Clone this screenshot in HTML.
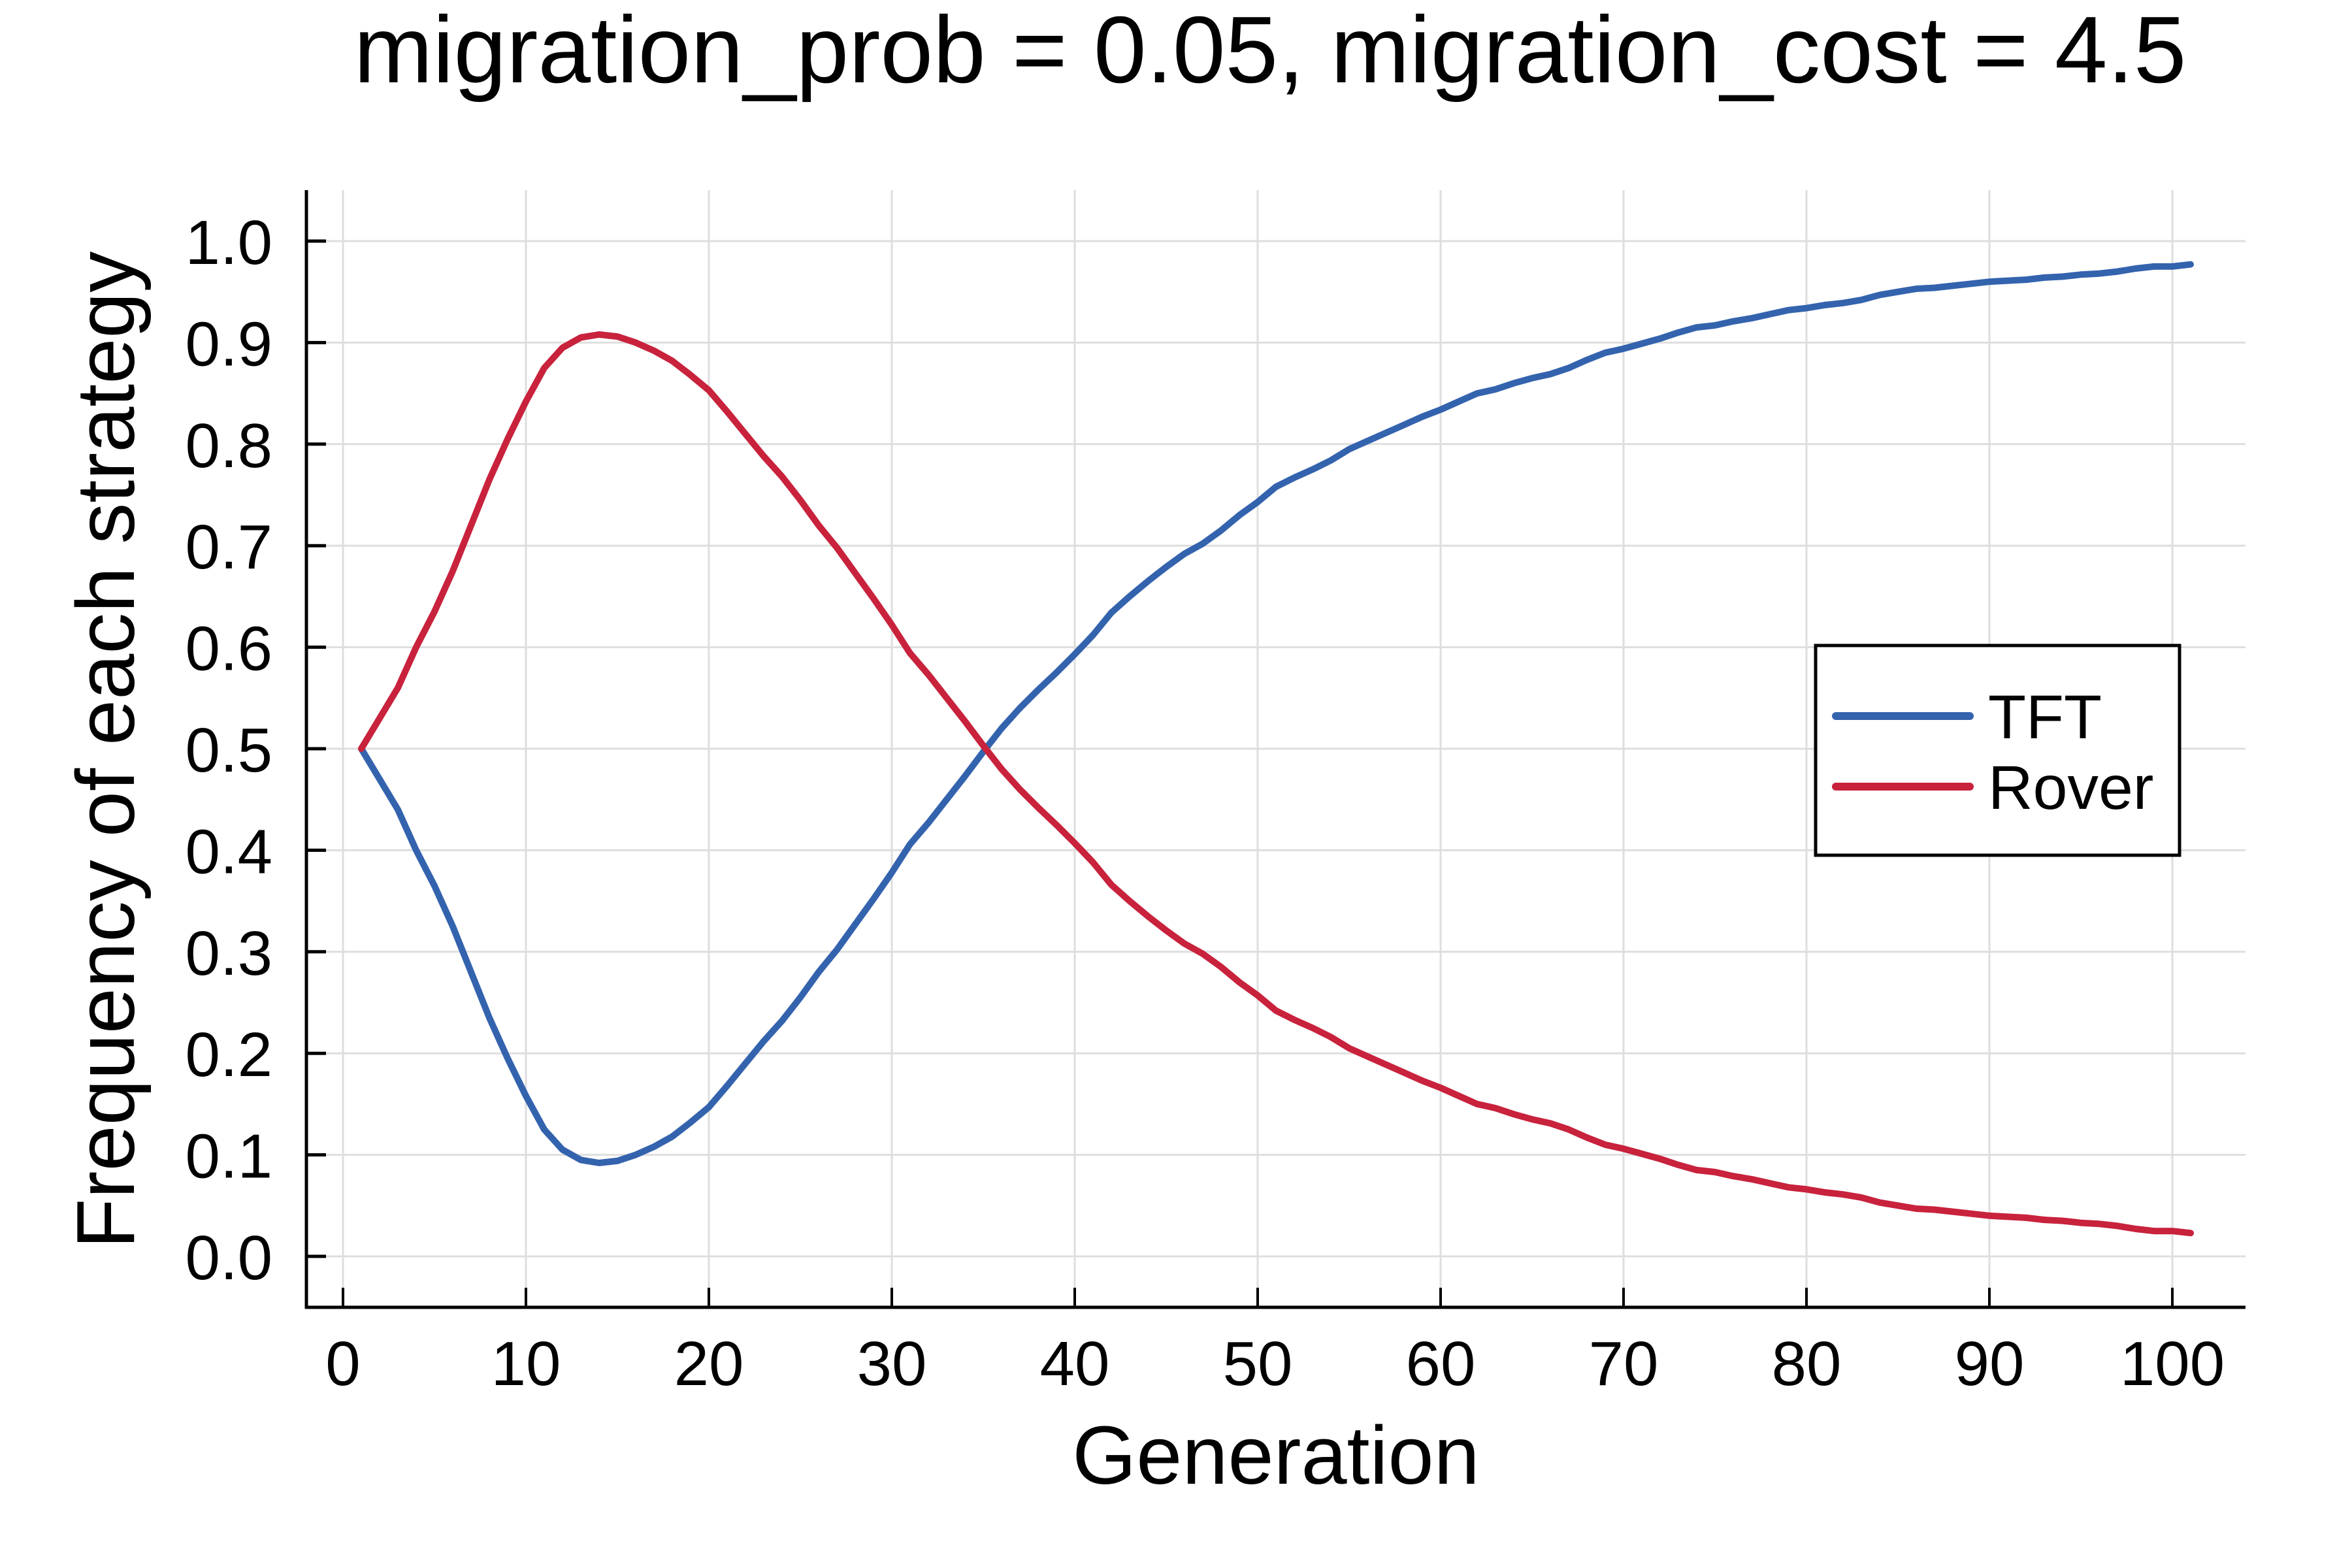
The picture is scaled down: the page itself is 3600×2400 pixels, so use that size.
<!DOCTYPE html>
<html><head><meta charset="utf-8"><style>
html,body{margin:0;padding:0;background:#fff;}
svg{display:block;font-family:"Liberation Sans",Arial,sans-serif;}
</style></head><body>
<svg id="chart" width="3600" height="2400" viewBox="0 0 3600 2400" xmlns="http://www.w3.org/2000/svg">
<rect x="0" y="0" width="3600" height="2400" fill="#fff"/>
<text x="1944" y="126" font-size="145" text-anchor="middle">migration_prob = 0.05, migration_cost = 4.5</text>
<g id="grid"></g>
<g id="series"></g>
<g id="axes"></g>
<text x="1953" y="2271" font-size="126" text-anchor="middle">Generation</text>
<text transform="translate(205,1148) rotate(-90)" font-size="126" text-anchor="middle">Frequency of each strategy</text>
<g>
<rect x="2779" y="988" width="557" height="321" fill="#fff" stroke="#000" stroke-width="5"/>
<line x1="2810" y1="1096" x2="3015" y2="1096" stroke="#3463ae" stroke-width="12" stroke-linecap="round"/>
<text x="3043" y="1130" font-size="95">TFT</text>
<line x1="2810" y1="1204" x2="3015" y2="1204" stroke="#c8223c" stroke-width="12" stroke-linecap="round"/>
<text x="3043" y="1238" font-size="95">Rover</text>
</g>
</svg>
<script>
const xTicks = [0,10,20,30,40,50,60,70,80,90,100];
const yTicks = [0.0,0.1,0.2,0.3,0.4,0.5,0.6,0.7,0.8,0.9,1.0];
const yTickLabels = ["0.0","0.1","0.2","0.3","0.4","0.5","0.6","0.7","0.8","0.9","1.0"];
const rover = [.5,.53,.56,.6,.635,.675,.72,.765,.805,.842,.875,.895,.905,.908,.906,.9,.892,.882,.868,.853,.832,.81,.788,.768,.745,.72,.698,.673,.648,.622,.594,.573,.55,.527,.503,.48,.46,.442,.425,.407,.388,.366,.35,.335,.321,.308,.298,.285,.27,.257,.242,.233,.225,.216,.205,.197,.189,.181,.173,.166,.158,.15,.146,.14,.135,.131,.125,.117,.11,.106,.101,.096,.09,.085,.083,.079,.076,.072,.068,.066,.063,.061,.058,.053,.05,.047,.046,.044,.042,.04,.039,.038,.036,.035,.033,.032,.03,.027,.025,.025,.023];
const tft = [.5,.47,.44,.4,.365,.325,.28,.235,.195,.158,.125,.105,.095,.092,.094,.1,.108,.118,.132,.147,.168,.19,.212,.232,.255,.28,.302,.327,.352,.378,.406,.427,.45,.473,.497,.52,.54,.558,.575,.593,.612,.634,.65,.665,.679,.692,.702,.715,.73,.743,.758,.767,.775,.784,.795,.803,.811,.819,.827,.834,.842,.85,.854,.86,.865,.869,.875,.883,.89,.894,.899,.904,.91,.915,.917,.921,.924,.928,.932,.934,.937,.939,.942,.947,.95,.953,.954,.956,.958,.96,.961,.962,.964,.965,.967,.968,.97,.973,.975,.975,.977];
const generations = rover.map((_, i) => i + 1);

const L=469, R=3437, T=291, B=2001;
const xScale = g => 525 + 28 * g;
const yScale = v => 1923 - 1554 * v;
const NS = "http://www.w3.org/2000/svg";
function mk(tag, attrs, parent){ const e=document.createElementNS(NS,tag); for(const k in attrs) e.setAttribute(k,attrs[k]); parent.appendChild(e); return e; }
const grid=document.getElementById('grid'), axes=document.getElementById('axes'), series=document.getElementById('series');

xTicks.forEach(t=>{
  const x=xScale(t);
  const gl=mk('line',{x1:x,y1:T,x2:x,y2:B,stroke:'#dedede','stroke-width':3},grid);
  
  
  const tk=mk('line',{x1:x,y1:B,x2:x,y2:B-30,stroke:'#000','stroke-width':4},axes);
  
  
  const lb=mk('text',{x:x,y:2120,'font-size':96,'text-anchor':'middle'},axes);
  lb.textContent=String(t);
  
  
});
yTicks.forEach((t,i)=>{
  const y=yScale(t);
  const gl=mk('line',{x1:L,y1:y,x2:R,y2:y,stroke:'#dedede','stroke-width':3},grid);
  
  
  const tk=mk('line',{x1:L,y1:y,x2:L+30,y2:y,stroke:'#000','stroke-width':5},axes);
  
  
  const lb=mk('text',{x:417,y:y+35,'font-size':96,'text-anchor':'end'},axes);
  lb.textContent=yTickLabels[i];
  
  
});
const ax=mk('line',{x1:L,y1:T,x2:L,y2:B+2,stroke:'#000','stroke-width':5},axes);


const bx=mk('line',{x1:L-2,y1:B,x2:R,y2:B,stroke:'#000','stroke-width':5},axes);



function line(vals,color,name){
  const d=vals.map((v,i)=>(i?'L':'M')+xScale(generations[i]).toFixed(1)+','+yScale(v).toFixed(1)).join(' ');
  const p=mk('path',{d:d,fill:'none',stroke:color,'stroke-width':10,'stroke-linejoin':'round','stroke-linecap':'round'},series);
  
  
}
line(tft,'#3463ae','tft-line');
line(rover,'#c8223c','rover-line');
</script>
</body></html>
